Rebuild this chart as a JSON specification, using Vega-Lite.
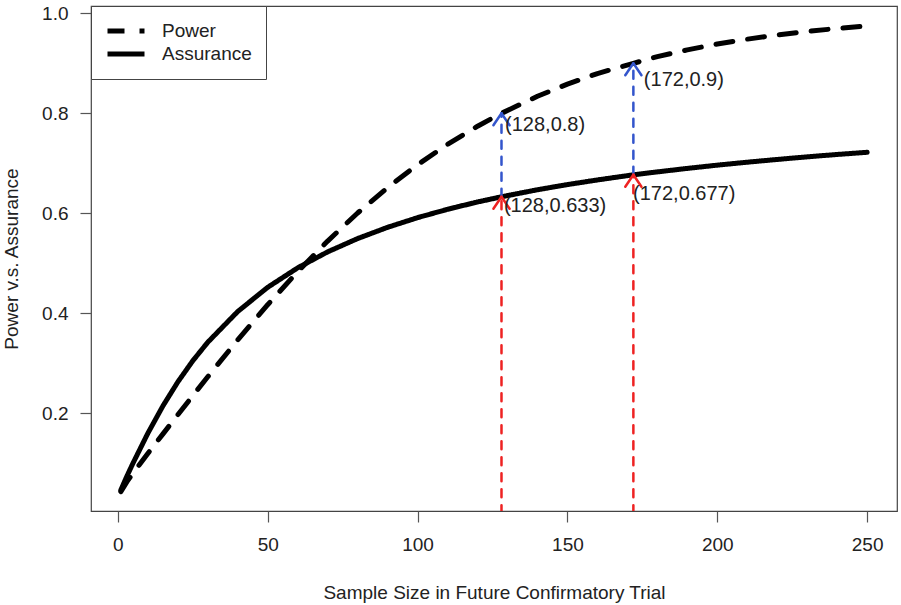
{
  "$schema": "https://vega.github.io/schema/vega-lite/v6.json",
  "width": 806,
  "height": 505,
  "autosize": {"type": "none"},
  "padding": {"left": 91, "top": 6, "right": 4, "bottom": 94},
  "background": "white",
  "config": {
    "view": {"stroke": "#444", "strokeWidth": 1.2},
    "font": "Liberation Sans",
    "axis": {
      "grid": false,
      "domain": false,
      "tickColor": "#555",
      "tickSize": 11,
      "tickWidth": 1.2,
      "labelFont": "Liberation Sans",
      "labelFontSize": 19,
      "labelColor": "#222",
      "titleFont": "Liberation Sans",
      "titleFontSize": 19,
      "titleFontWeight": "normal",
      "titleColor": "#222"
    }
  },
  "datasets": {
    "curves": [
      {"n": 1, "value": 0.0434, "series": "Power"},
      {"n": 3, "value": 0.0629, "series": "Power"},
      {"n": 5, "value": 0.0798, "series": "Power"},
      {"n": 10, "value": 0.1196, "series": "Power"},
      {"n": 15, "value": 0.1584, "series": "Power"},
      {"n": 20, "value": 0.1969, "series": "Power"},
      {"n": 25, "value": 0.2352, "series": "Power"},
      {"n": 30, "value": 0.2730, "series": "Power"},
      {"n": 40, "value": 0.3469, "series": "Power"},
      {"n": 50, "value": 0.4172, "series": "Power"},
      {"n": 60, "value": 0.4833, "series": "Power"},
      {"n": 70, "value": 0.5445, "series": "Power"},
      {"n": 80, "value": 0.6006, "series": "Power"},
      {"n": 90, "value": 0.6514, "series": "Power"},
      {"n": 100, "value": 0.6972, "series": "Power"},
      {"n": 110, "value": 0.7380, "series": "Power"},
      {"n": 120, "value": 0.7742, "series": "Power"},
      {"n": 128, "value": 0.8000, "series": "Power"},
      {"n": 140, "value": 0.8340, "series": "Power"},
      {"n": 150, "value": 0.8583, "series": "Power"},
      {"n": 160, "value": 0.8795, "series": "Power"},
      {"n": 172, "value": 0.9000, "series": "Power"},
      {"n": 180, "value": 0.9134, "series": "Power"},
      {"n": 190, "value": 0.9269, "series": "Power"},
      {"n": 200, "value": 0.9385, "series": "Power"},
      {"n": 210, "value": 0.9483, "series": "Power"},
      {"n": 220, "value": 0.9566, "series": "Power"},
      {"n": 230, "value": 0.9637, "series": "Power"},
      {"n": 240, "value": 0.9697, "series": "Power"},
      {"n": 250, "value": 0.9747, "series": "Power"},
      {"n": 1, "value": 0.0466, "series": "Assurance"},
      {"n": 3, "value": 0.0740, "series": "Assurance"},
      {"n": 5, "value": 0.0996, "series": "Assurance"},
      {"n": 10, "value": 0.1600, "series": "Assurance"},
      {"n": 15, "value": 0.2144, "series": "Assurance"},
      {"n": 20, "value": 0.2626, "series": "Assurance"},
      {"n": 25, "value": 0.3050, "series": "Assurance"},
      {"n": 30, "value": 0.3421, "series": "Assurance"},
      {"n": 40, "value": 0.4036, "series": "Assurance"},
      {"n": 50, "value": 0.4520, "series": "Assurance"},
      {"n": 60, "value": 0.4909, "series": "Assurance"},
      {"n": 70, "value": 0.5229, "series": "Assurance"},
      {"n": 80, "value": 0.5495, "series": "Assurance"},
      {"n": 90, "value": 0.5720, "series": "Assurance"},
      {"n": 100, "value": 0.5913, "series": "Assurance"},
      {"n": 110, "value": 0.6080, "series": "Assurance"},
      {"n": 120, "value": 0.6226, "series": "Assurance"},
      {"n": 128, "value": 0.6330, "series": "Assurance"},
      {"n": 140, "value": 0.6471, "series": "Assurance"},
      {"n": 150, "value": 0.6574, "series": "Assurance"},
      {"n": 160, "value": 0.6667, "series": "Assurance"},
      {"n": 172, "value": 0.6770, "series": "Assurance"},
      {"n": 180, "value": 0.6828, "series": "Assurance"},
      {"n": 190, "value": 0.6898, "series": "Assurance"},
      {"n": 200, "value": 0.6963, "series": "Assurance"},
      {"n": 210, "value": 0.7022, "series": "Assurance"},
      {"n": 220, "value": 0.7077, "series": "Assurance"},
      {"n": 230, "value": 0.7129, "series": "Assurance"},
      {"n": 240, "value": 0.7177, "series": "Assurance"},
      {"n": 250, "value": 0.7220, "series": "Assurance"}
    ],
    "shafts": [
      {"x": 128, "y": 0.633, "y2": 0.8, "kind": "power"},
      {"x": 172, "y": 0.677, "y2": 0.9, "kind": "power"},
      {"x": 128, "y": 0, "y2": 0.633, "kind": "assurance"},
      {"x": 172, "y": 0, "y2": 0.677, "kind": "assurance"}
    ],
    "heads": [
      {"x": 125.3, "y": 0.776, "x2": 128, "y2": 0.8, "kind": "power"},
      {"x": 130.7, "y": 0.776, "x2": 128, "y2": 0.8, "kind": "power"},
      {"x": 169.3, "y": 0.876, "x2": 172, "y2": 0.9, "kind": "power"},
      {"x": 174.7, "y": 0.876, "x2": 172, "y2": 0.9, "kind": "power"},
      {"x": 125.3, "y": 0.609, "x2": 128, "y2": 0.633, "kind": "assurance"},
      {"x": 130.7, "y": 0.609, "x2": 128, "y2": 0.633, "kind": "assurance"},
      {"x": 169.3, "y": 0.653, "x2": 172, "y2": 0.677, "kind": "assurance"},
      {"x": 174.7, "y": 0.653, "x2": 172, "y2": 0.677, "kind": "assurance"}
    ],
    "labels": [
      {"lx": 129.2, "ly": 0.777, "label": "(128,0.8)"},
      {"lx": 175.5, "ly": 0.867, "label": "(172,0.9)"},
      {"lx": 128.8, "ly": 0.615, "label": "(128,0.633)"},
      {"lx": 171.9, "ly": 0.639, "label": "(172,0.677)"}
    ]
  },
  "layer": [
    {
      "data": {"name": "curves"},
      "mark": {"type": "line", "color": "black", "strokeWidth": 5, "strokeCap": "round", "strokeJoin": "round", "clip": true},
      "encoding": {
        "x": {
          "field": "n", "type": "quantitative",
          "scale": {"domain": [-8.96, 259.96], "nice": false, "zero": false},
          "axis": {"values": [0, 50, 100, 150, 200, 250], "labelPadding": 13, "titlePadding": 29, "title": "Sample Size in Future Confirmatory Trial"}
        },
        "y": {
          "field": "value", "type": "quantitative",
          "scale": {"domain": [0.0046, 1.0146], "nice": false, "zero": false},
          "axis": {"values": [0.2, 0.4, 0.6, 0.8, 1.0], "format": ".1f", "labelPadding": 12, "titlePadding": 20, "title": "Power v.s. Assurance"}
        },
        "strokeDash": {
          "field": "series", "type": "nominal",
          "scale": {"domain": ["Power", "Assurance"], "range": [[17, 15], [1, 0]]},
          "legend": {
            "title": null,
            "orient": "top-left",
            "offset": 0,
            "padding": 14,
            "fillColor": "white",
            "strokeColor": "#444",
            "symbolType": "stroke",
            "symbolSize": 1369,
            "symbolOffset": 0,
            "symbolStrokeWidth": 5,
            "symbolStrokeColor": "black",
            "clipHeight": 22,
            "labelFontSize": 19,
            "labelFont": "Liberation Sans",
            "labelColor": "#222",
            "labelOffset": 15,
            "rowPadding": 1
          }
        }
      }
    },
    {
      "data": {"name": "shafts"},
      "mark": {"type": "rule", "strokeWidth": 2.5, "strokeDash": [8, 8], "strokeCap": "round", "clip": true},
      "encoding": {
        "x": {"field": "x", "type": "quantitative"},
        "y": {"field": "y", "type": "quantitative"},
        "y2": {"field": "y2"},
        "color": {
          "field": "kind", "type": "nominal",
          "scale": {"domain": ["power", "assurance"], "range": ["#3355cc", "#ee2222"]},
          "legend": null
        }
      }
    },
    {
      "data": {"name": "heads"},
      "mark": {"type": "rule", "strokeWidth": 2.5, "strokeCap": "round", "clip": true},
      "encoding": {
        "x": {"field": "x", "type": "quantitative"},
        "x2": {"field": "x2"},
        "y": {"field": "y", "type": "quantitative"},
        "y2": {"field": "y2"},
        "color": {"field": "kind", "type": "nominal", "legend": null}
      }
    },
    {
      "data": {"name": "labels"},
      "mark": {"type": "text", "align": "left", "baseline": "middle", "fontSize": 20, "font": "Liberation Sans", "color": "#222"},
      "encoding": {
        "x": {"field": "lx", "type": "quantitative"},
        "y": {"field": "ly", "type": "quantitative"},
        "text": {"field": "label"}
      }
    }
  ]
}
